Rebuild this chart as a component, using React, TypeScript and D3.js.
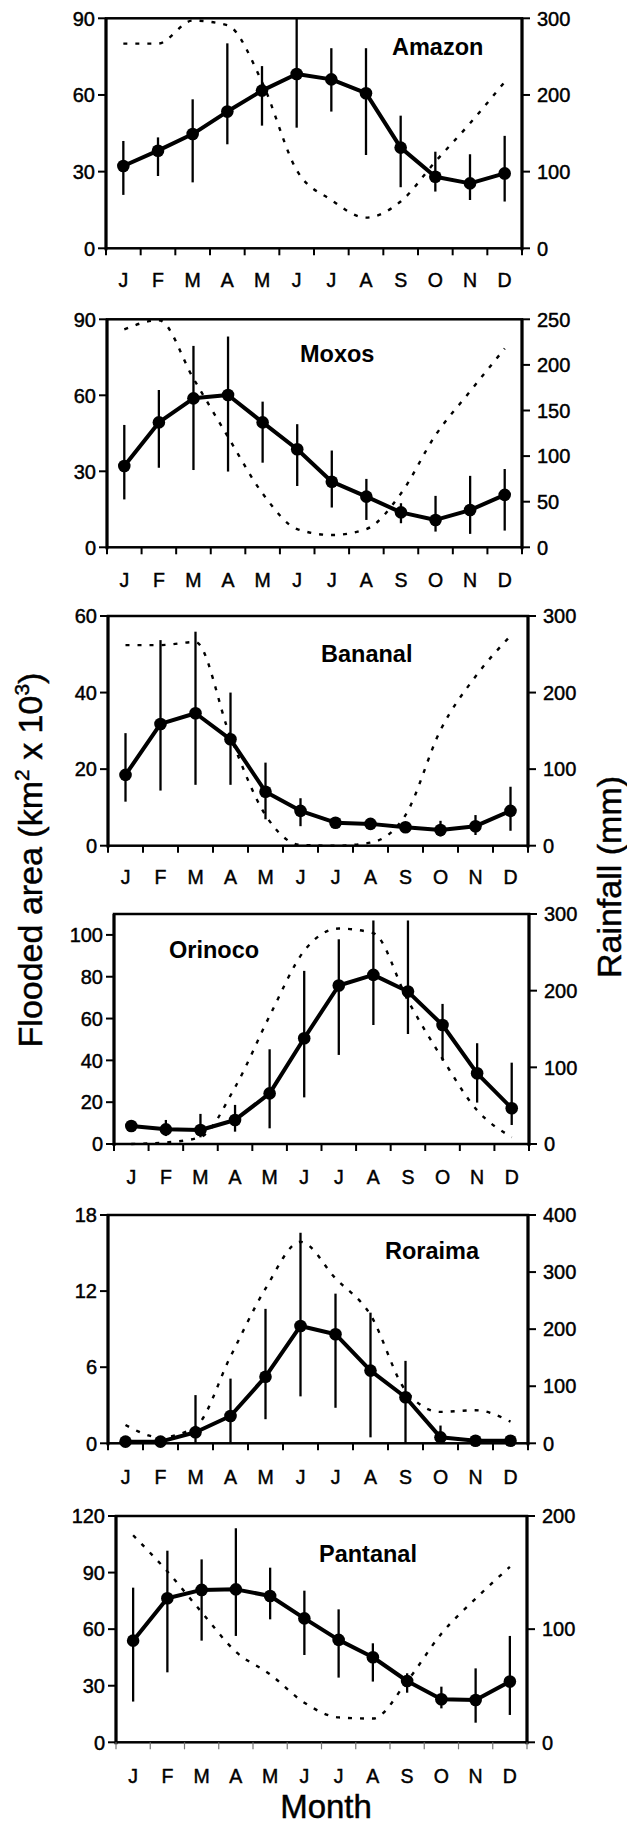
import React from "react";
import * as d3 from "d3";

const months = ["J", "F", "M", "A", "M", "J", "J", "A", "S", "O", "N", "D"];

const amazonFlood = [32.2, 38.2, 44.7, 53.5, 61.7, 68.2, 66.1, 60.7, 39.4, 28.0, 25.4, 29.3];
const amazonHigh = [42.0, 43.4, 58.3, 80.2, 71.3, 90, 78.3, 78.3, 51.9, 37.8, 36.8, 44.0];
const amazonLow = [20.9, 28.3, 25.8, 40.7, 48.0, 47.2, 53.5, 36.5, 23.9, 22.2, 18.9, 18.3];
const amazonRain = [267, 267, 297, 291, 217, 102, 63, 40, 61, 113, 163, 217];

const moxosFlood = [32.1, 49.3, 58.8, 60.1, 49.3, 38.7, 25.9, 20.0, 13.8, 10.8, 14.7, 20.7];
const moxosHigh = [48.3, 62.1, 79.5, 83.2, 57.5, 48.6, 38.2, 27.0, 17.4, 20.3, 28.2, 30.9];
const moxosLow = [18.9, 31.4, 30.5, 29.9, 33.4, 24.2, 15.7, 10.8, 9.5, 6.2, 5.3, 6.6];
const moxosRain = [239, 249, 185, 121, 59, 20, 13.5, 20, 59, 123, 171, 218];

const bananalFlood = [18.5, 31.8, 34.6, 27.8, 14.1, 9.1, 6.0, 5.7, 4.8, 4.1, 5.1, 9.1];
const bananalHigh = [29.4, 53.7, 55.9, 40.0, 21.7, 12.4, 7.1, 7.1, 5.8, 6.5, 8.0, 15.4];
const bananalLow = [11.5, 14.4, 15.9, 15.9, 6.9, 5.1, 5.0, 4.3, 3.7, 2.4, 2.8, 3.9];
const bananalRain = [262, 262, 266, 142, 40, 1, 0, 4, 40, 151, 221, 274];

const orinocoFlood = [8.6, 7.0, 6.7, 11.5, 24.2, 50.6, 75.8, 80.9, 72.9, 56.9, 33.8, 17.1];
const orinocoHigh = [10.7, 11.5, 14.4, 18.7, 45.3, 82.8, 97.9, 106.9, 106.9, 67.0, 48.2, 38.9];
const orinocoLow = [5.9, 3.8, 3.2, 5.9, 7.5, 22.3, 42.6, 56.9, 52.6, 39.9, 19.8, 9.1];
const orinocoRain = [0, 2, 9, 74, 167, 252, 281, 275, 187, 111, 44, 9];

const roraimaFlood = [0.13, 0.13, 0.87, 2.15, 5.25, 9.25, 8.6, 5.73, 3.63, 0.47, 0.2, 0.2];
const roraimaHigh = [0.13, 0.13, 3.8, 5.1, 10.6, 16.6, 11.8, 10.3, 6.5, 1.4, 0.2, 0.2];
const roraimaLow = [0.13, 0.13, 0, 0, 1.9, 3.7, 2.8, 0.47, 0, 0, 0.2, 0.2];
const roraimaRain = [32, 10.5, 29, 152, 271, 353, 289, 225, 93, 55, 58, 38];

const pantanalFlood = [53.9, 76.4, 80.8, 81.1, 77.6, 65.7, 54.3, 45.1, 32.5, 22.8, 22.4, 32.2];
const pantanalHigh = [82.0, 101.6, 97.0, 113.5, 92.6, 80.4, 70.5, 52.5, 36.6, 29.5, 39.2, 56.4];
const pantanalLow = [21.6, 37.1, 53.9, 56.4, 65.2, 46.3, 34.3, 32.2, 26.3, 18.0, 10.4, 14.5];
const pantanalRain = [183, 151, 115, 80, 60, 35, 22, 21, 54, 96, 127, 155];

const amazonLeftTicks = [0, 30, 60, 90];
const amazonRightTicks = [0, 100, 200, 300];
const moxosLeftTicks = [0, 30, 60, 90];
const moxosRightTicks = [0, 50, 100, 150, 200, 250];
const bananalLeftTicks = [0, 20, 40, 60];
const bananalRightTicks = [0, 100, 200, 300];
const orinocoLeftTicks = [0, 20, 40, 60, 80, 100];
const orinocoRightTicks = [0, 100, 200, 300];
const roraimaLeftTicks = [0, 6, 12, 18];
const roraimaRightTicks = [0, 100, 200, 300, 400];
const pantanalLeftTicks = [0, 30, 60, 90, 120];
const pantanalRightTicks = [0, 100, 200];

const panels = [
  { name: "Amazon", flood: amazonFlood, high: amazonHigh, low: amazonLow, rain: amazonRain, lt: amazonLeftTicks, rt: amazonRightTicks, lmax: 90, rmax: 300,
    x0: 106, x1: 522, yTop: 18.3, yBot: 248.3, labY: 287, tx: 392, ty: 55, faint: false },
  { name: "Moxos", flood: moxosFlood, high: moxosHigh, low: moxosLow, rain: moxosRain, lt: moxosLeftTicks, rt: moxosRightTicks, lmax: 90, rmax: 250,
    x0: 107, x1: 522, yTop: 319.3, yBot: 547.3, labY: 587, tx: 300, ty: 362, faint: false },
  { name: "Bananal", flood: bananalFlood, high: bananalHigh, low: bananalLow, rain: bananalRain, lt: bananalLeftTicks, rt: bananalRightTicks, lmax: 60, rmax: 300,
    x0: 108, x1: 528, yTop: 616, yBot: 845.7, labY: 884, tx: 321, ty: 662, faint: false },
  { name: "Orinoco", flood: orinocoFlood, high: orinocoHigh, low: orinocoLow, rain: orinocoRain, lt: orinocoLeftTicks, rt: orinocoRightTicks, lmax: 110, rmax: 300,
    x0: 114, x1: 529, yTop: 914, yBot: 1144, labY: 1184, tx: 169, ty: 958, faint: false },
  { name: "Roraima", flood: roraimaFlood, high: roraimaHigh, low: roraimaLow, rain: roraimaRain, lt: roraimaLeftTicks, rt: roraimaRightTicks, lmax: 18, rmax: 400,
    x0: 108, x1: 528, yTop: 1215, yBot: 1443.3, labY: 1484, tx: 385, ty: 1259, faint: false },
  { name: "Pantanal", flood: pantanalFlood, high: pantanalHigh, low: pantanalLow, rain: pantanalRain, lt: pantanalLeftTicks, rt: pantanalRightTicks, lmax: 120, rmax: 200,
    x0: 116, x1: 527, yTop: 1516, yBot: 1742.3, labY: 1783, tx: 319, ty: 1562, faint: true },
];

const FONT = "'Liberation Sans', Arial, Helvetica, sans-serif";
const TXT = { fontFamily: FONT, fill: "#000", stroke: "#000", strokeWidth: 0.45 } as const;

function Panel({ p }: { p: any }) {
  const band = d3.scaleBand<number>().domain(d3.range(12)).range([p.x0, p.x1]).padding(0);
  const cx = (i: number) => (band(i) as number) + band.bandwidth() / 2;
  const yL = d3.scaleLinear().domain([0, p.lmax]).range([p.yBot, p.yTop]);
  const yR = d3.scaleLinear().domain([0, p.rmax]).range([p.yBot, p.yTop]);
  const rainLine = d3.line<number>().x((_, i) => cx(i)).y((d) => yR(d)).curve(d3.curveMonotoneX);
  const floodLine = d3.line<number>().x((_, i) => cx(i)).y((d) => yL(d));
  const boundaries = d3.range(13).map((i) => (i < 12 ? (band(i) as number) : p.x1));
  return (
    <g>
      <path d={rainLine(p.rain) || ""} fill="none" stroke="#000" strokeWidth={2.4} strokeDasharray="4 8" />
      {p.flood.map((_: number, i: number) => (
        <line key={"e" + i} x1={cx(i)} x2={cx(i)} y1={yL(p.high[i])} y2={yL(p.low[i])} stroke="#000" strokeWidth={2.3} />
      ))}
      <path d={floodLine(p.flood) || ""} fill="none" stroke="#000" strokeWidth={4} strokeLinejoin="round" />
      {p.flood.map((d: number, i: number) => (
        <circle key={"c" + i} cx={cx(i)} cy={yL(d)} r={6.3} fill="#000" />
      ))}
      <rect x={p.x0} y={p.yTop} width={p.x1 - p.x0} height={p.yBot - p.yTop} fill="none" stroke="#000" strokeWidth={2.5} />
      <line x1={p.x0} x2={p.x0} y1={p.yTop} y2={p.yBot + 2} stroke="#000" strokeWidth={3} />
      <line x1={p.x1} x2={p.x1} y1={p.yTop} y2={p.yBot + 2} stroke="#000" strokeWidth={3} />
      {p.lt.map((t: number) => (
        <g key={"lt" + t}>
          <line x1={p.x0 - 8} x2={p.x0} y1={yL(t)} y2={yL(t)} stroke="#000" strokeWidth={2} />
          <text x={p.x0 - 11} y={yL(t)} dy="0.36em" textAnchor="end" fontSize={20} {...TXT}>{t}</text>
        </g>
      ))}
      {p.rt.map((t: number) => (
        <g key={"rt" + t}>
          <line x1={p.x1} x2={p.x1 + 8} y1={yR(t)} y2={yR(t)} stroke="#000" strokeWidth={2} />
          <text x={p.x1 + 15} y={yR(t)} dy="0.36em" textAnchor="start" fontSize={20} {...TXT}>{t}</text>
        </g>
      ))}
      {boundaries.map((bx: number, i: number) => (
        <line key={"bt" + i} x1={bx} x2={bx} y1={p.yBot} y2={p.yBot + 7} stroke={p.faint ? "#777" : "#000"} strokeWidth={p.faint ? 1.2 : 2} />
      ))}
      {months.map((m, i) => (
        <text key={"m" + i} x={cx(i)} y={p.labY} textAnchor="middle" fontSize={19.5} {...TXT}>{m}</text>
      ))}
      <text x={p.tx} y={p.ty} fontSize={23.5} fontWeight="bold" fontFamily={FONT}>{p.name}</text>
    </g>
  );
}

export default function App() {
  return (
    <svg width={627} height={1826} style={{ position: "absolute", left: 0, top: 0, background: "#fff" }} xmlns="http://www.w3.org/2000/svg">
      <rect x={0} y={0} width={627} height={1826} fill="#fff" />
      {panels.map((p) => (
        <Panel key={p.name} p={p} />
      ))}
      <text transform="translate(42,860) rotate(-90)" textAnchor="middle" fontSize={34} {...TXT}>
        Flooded area (km<tspan fontSize={21} dy={-13}>2</tspan><tspan dy={13}> x 10</tspan><tspan fontSize={21} dy={-13}>3</tspan><tspan dy={13}>)</tspan>
      </text>
      <text transform="translate(621,877) rotate(-90)" textAnchor="middle" fontSize={34} {...TXT}>Rainfall (mm)</text>
      <text x={326} y={1818} textAnchor="middle" fontSize={33} {...TXT}>Month</text>
    </svg>
  );
}
